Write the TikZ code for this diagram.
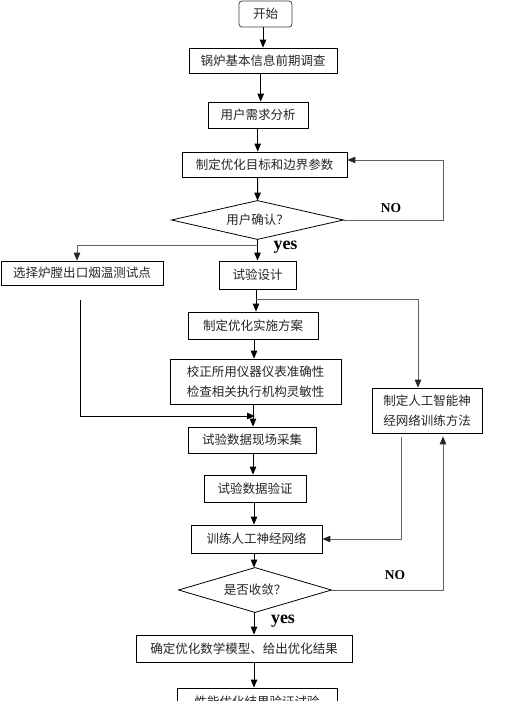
\documentclass[tikz,border=0pt]{standalone}
\usepackage{fontspec}
\setmainfont{Liberation Serif}
\newfontfamily\cjk{Noto Sans CJK SC}
\usetikzlibrary{arrows.meta,calc}
\begin{document}
\begin{tikzpicture}[x=1bp,y=-1bp,
  box/.style={draw=black, line width=0.8bp, inner sep=0pt, align=center, text=black!85,
    font=\cjk\fontsize{12.5bp}{19.5bp}\selectfont},
  arr/.style={-{Triangle[length=8bp,width=6.5bp]}, line width=0.9bp, draw=black},
  garr/.style={-{Triangle[length=8bp,width=6.5bp,color=black!85]}, line width=0.9bp, draw=black!62},
  lbl/.style={font=\bfseries\fontsize{13.5bp}{14bp}\selectfont, text=black, inner sep=0pt},
  ylbl/.style={font=\bfseries\fontsize{18bp}{18bp}\selectfont, text=black, inner sep=0pt}]
\useasboundingbox (0,0) rectangle (506,701);
\fill[white] (0,0) rectangle (506,701);

% nodes
\node[box, draw=black!75, rounded corners=3bp, minimum width=53bp, minimum height=26bp] (start) at (265.5,14) {开始};
\node[box, minimum width=148bp, minimum height=25bp] (n1) at (263,60.5) {锅炉基本信息前期调查};
\node[box, minimum width=100bp, minimum height=26bp] (n2) at (258,115) {用户需求分析};
\node[box, minimum width=165bp, minimum height=25bp] (n3) at (264.5,164.5) {制定优化目标和边界参数};
\node[box, draw=none, minimum width=171bp, minimum height=38bp] (d1) at (257.5,220) {用户确认？};
\draw[line width=0.8bp] (d1.north) -- (d1.east) -- (d1.south) -- (d1.west) -- cycle;
\node[box, minimum width=162bp, minimum height=24bp] (n4) at (82,273) {选择炉膛出口烟温测试点};
\node[box, minimum width=77bp, minimum height=28bp] (n5) at (257.5,275) {试验设计};
\node[box, minimum width=130bp, minimum height=27bp] (n6) at (253,325.5) {制定优化实施方案};
\node[box, align=left, minimum width=171bp, minimum height=45bp] (n7) at (255.5,381.5) {校正所用仪器仪表准确性\\检查相关执行机构灵敏性};
\node[box, minimum width=128bp, minimum height=26bp] (n8) at (252,440) {试验数据现场采集};
\node[box, align=left, font=\cjk\fontsize{12.5bp}{20.5bp}\selectfont, minimum width=110bp, minimum height=45bp] (n9) at (427,410.5) {制定人工智能神\\经网络训练方法};
\node[box, minimum width=102bp, minimum height=27bp] (n10) at (255,488.5) {试验数据验证};
\node[box, minimum width=131bp, minimum height=28bp] (n11) at (256.5,539) {训练人工神经网络};
\node[box, draw=none, minimum width=152bp, minimum height=44bp] (d2) at (255,590) {是否收敛？};
\draw[line width=0.8bp] (d2.north) -- (d2.east) -- (d2.south) -- (d2.west) -- cycle;
\node[box, minimum width=216bp, minimum height=27bp] (n12) at (244,648.5) {确定优化数学模型、给出优化结果};
\node[box, minimum width=160bp, minimum height=28bp] (n13) at (257,702) {性能优化结果验证试验};

% labels
\node[lbl] (no1) at (391,208) {NO};
\node[ylbl] (yes1) at (285.5,247) {yes};
\node[lbl] (no2) at (395,575) {NO};
\node[ylbl] (yes2) at (283,621) {yes};

% helper coordinates
\coordinate (a2) at (260.7,0);
\coordinate (a3) at (257.7,0);
\coordinate (a4) at (77,0);
\coordinate (a5) at (256,0);
\coordinate (a6) at (418,0);
\coordinate (a7) at (254,0);
\coordinate (a8) at (253,0);
\coordinate (a9) at (443,0);
\coordinate (b1) at (257.5,245);
\coordinate (b2) at (256,299);
\coordinate (c1) at (80,300);
\coordinate (c2) at (255,416);
\coordinate (c3) at (401,437);
\coordinate (c5) at (443,160);

% connectors
\draw[arr] (start.south -| n1.north) -- (n1.north);
\draw[arr] (n1.south -| a2) -- (n2.north -| a2);
\draw[arr] (n2.south -| a3) -- (n3.north -| a3);
\draw[arr] (n3.south -| a3) -- (d1.north);
\draw[arr] (d1.south) -- (d1.south |- n5.north);
\draw[garr] (b1) -| (n4.north -| a4);
\draw[arr] (n5.south -| a5) -- (n6.north -| a5);
\draw[garr] (b2) -| (n9.north -| a6);
\draw[arr] (n6.south -| a7) -- (n7.north -| a7);
\draw[arr] (n7.south -| a8) -- (n8.north -| a8);
\draw[arr] (c1) |- (c2);
\draw[arr] (n8.south -| a8) -- (n10.north -| a8);
\draw[arr] (n10.south -| a7) -- (n11.north -| a7);
\draw[arr] (n11.south -| a7) -- (d2.north -| a7);
\draw[arr] (d2.south -| a7) -- (n12.north -| a7);
\draw[arr] (n12.south -| a7) -- (n13.north -| a7);
\draw[garr] (c3) |- (n11.east);
\draw[garr, shorten >=3bp] (d2.east) -| (n9.south -| a9);
\draw[garr] (d1.east) -| (c5) -- (n3.east |- c5);
\end{tikzpicture}
\end{document}
